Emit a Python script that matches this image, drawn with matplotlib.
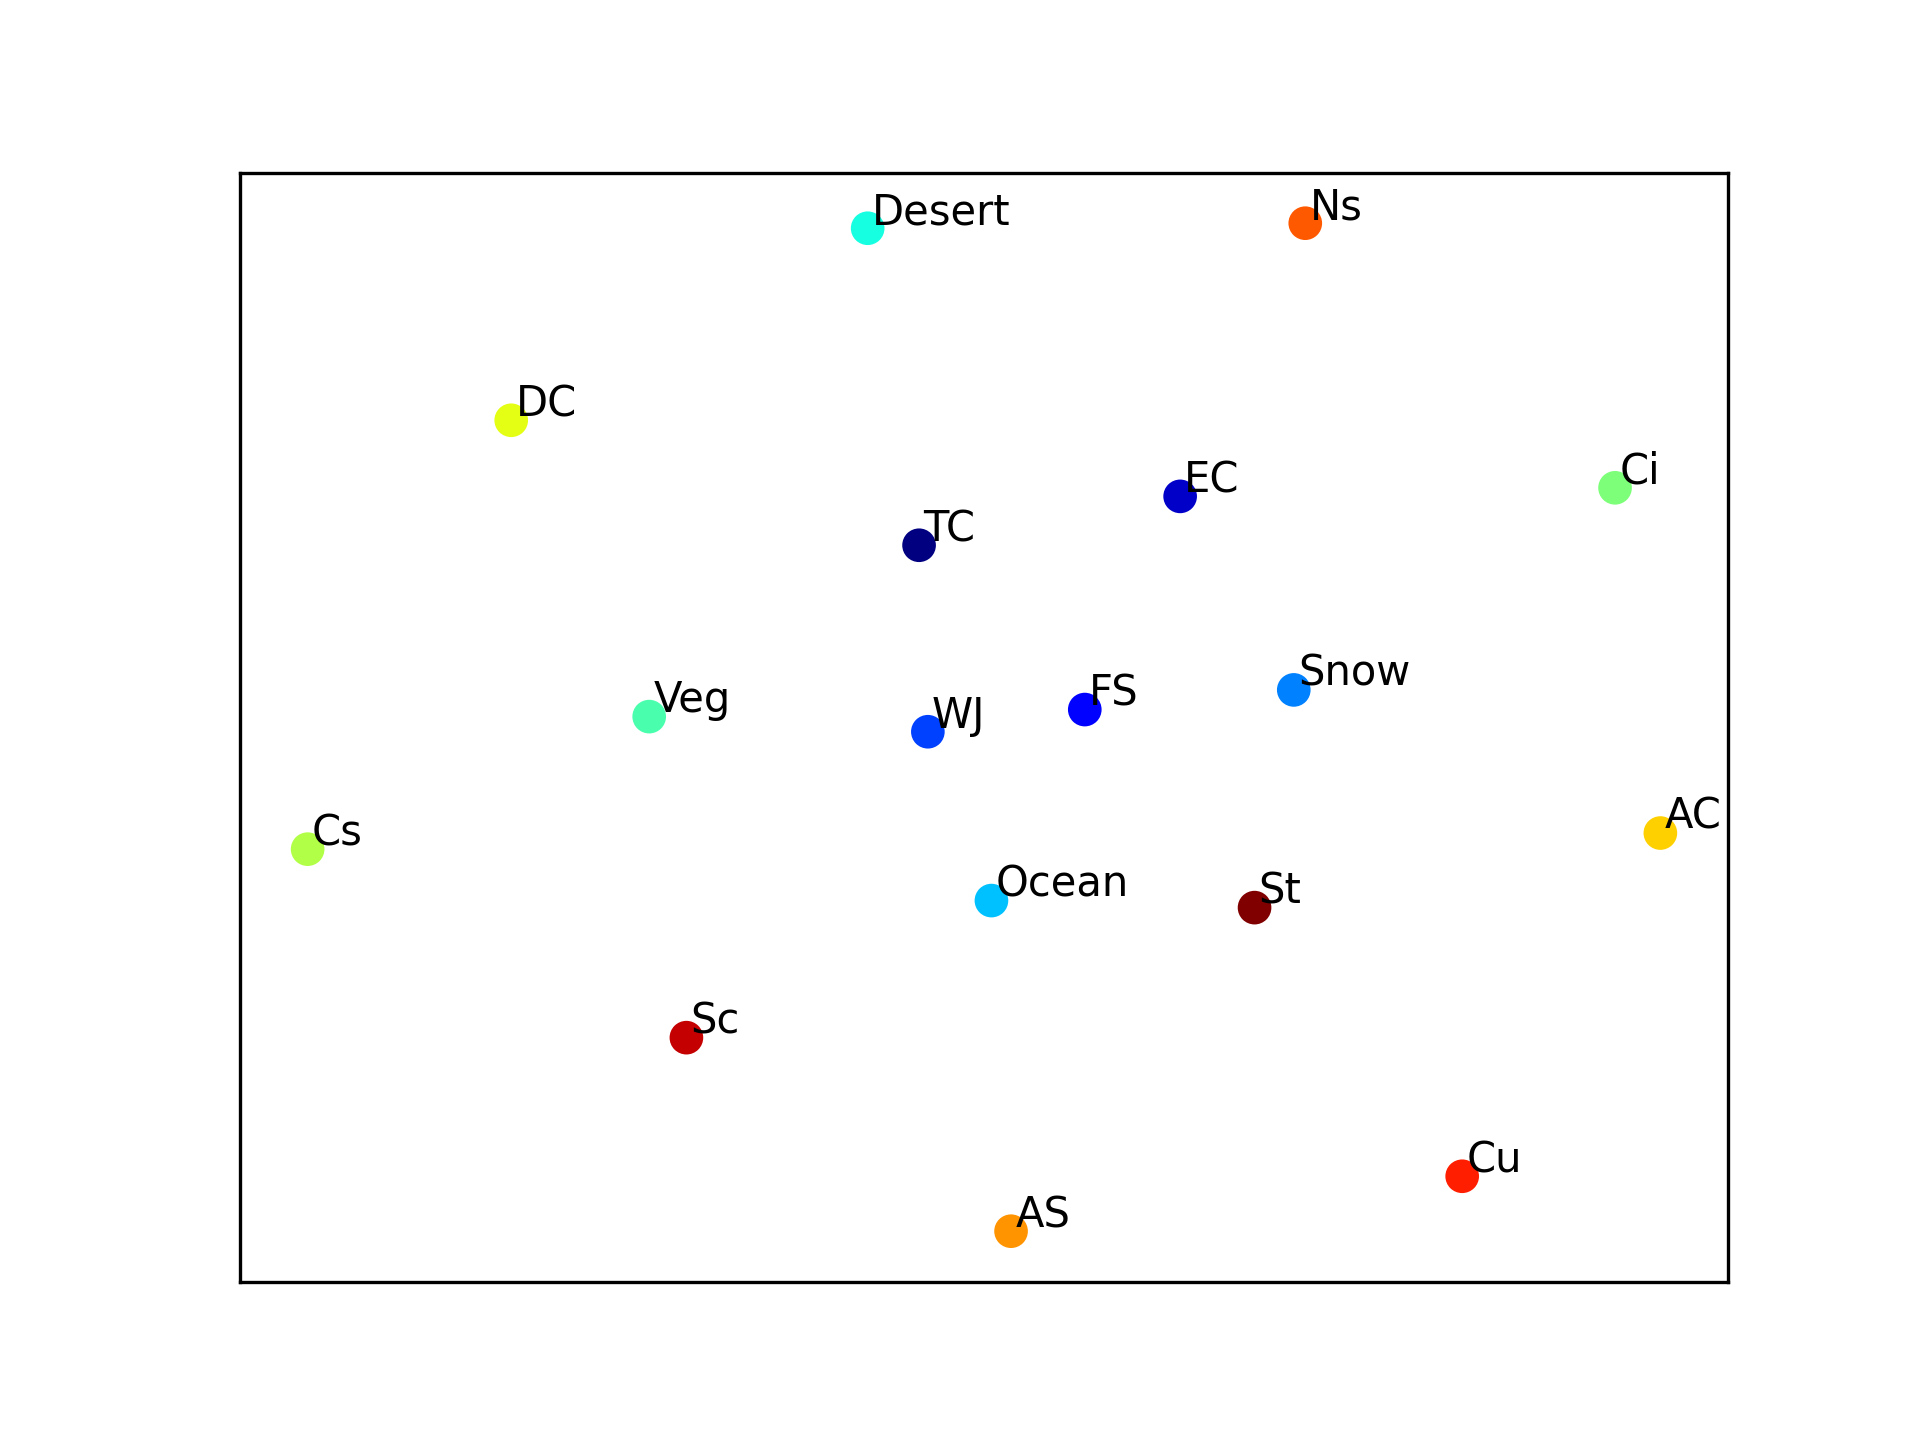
import matplotlib
matplotlib.use("Agg")
import matplotlib.pyplot as plt
import numpy as np

labels = ["TC", "EC", "FS", "WJ", "Snow", "Ocean", "Desert", "Veg", "Ci",
          "Cs", "DC", "AC", "AS", "Ns", "Cu", "Sc", "St"]
x_vals = [-0.096, 0.290, 0.149, -0.083, 0.458, 0.011, -0.172, -0.495, 0.933,
          -1.000, -0.699, 1.000, 0.040, 0.475, 0.707, -0.440, 0.400]
y_vals = [0.361, 0.458, 0.035, -0.009, 0.074, -0.344, 0.990, 0.021, 0.475,
          -0.242, 0.609, -0.210, -1.000, 1.000, -0.891, -0.616, -0.358]

fig, ax = plt.subplots(figsize=(6.4, 4.8), dpi=300)
colors = plt.cm.jet(np.linspace(0, 1, len(labels)))
ax.scatter(x_vals, y_vals, c=colors, s=50, zorder=2)
for lab, xv, yv in zip(labels, x_vals, y_vals):
    ax.annotate(lab, (xv, yv), xytext=(1, 1), textcoords="offset points",
                fontsize=10, zorder=3)
ax.set_xticks([])
ax.set_yticks([])
fig.savefig("out.png", dpi=300)
